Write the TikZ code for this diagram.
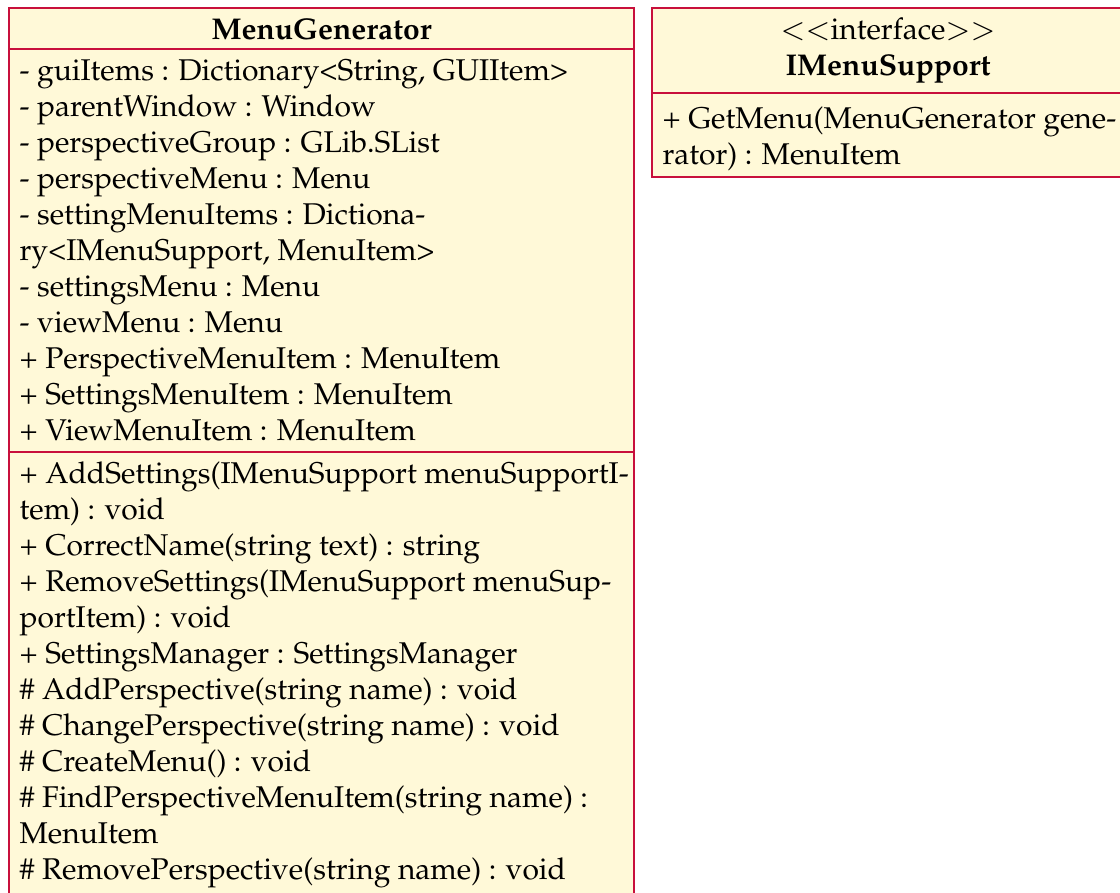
\documentclass[tikz,border=0pt]{standalone}
\usepackage[T1]{fontenc}
\usepackage{mathpazo}
\definecolor{umlfill}{RGB}{255,249,216}
\definecolor{umlline}{RGB}{200,16,60}
\begin{document}
\begin{tikzpicture}[x=0.33333pt,y=-0.33333pt,
  classbox/.style={draw=umlline,fill=umlfill,line width=0.6pt},
  sepline/.style={draw=umlline,line width=0.6pt},
  member/.style={anchor=base west,inner sep=0pt,font=\fontsize{10}{12}\selectfont},
  title/.style={anchor=base,inner sep=0pt,font=\fontsize{10}{12}\selectfont}]
\useasboundingbox (0,0) rectangle (1120,892);
\clip (0,0) rectangle (1120,892);
% MenuGenerator class
\path[classbox] (9,8) rectangle (634,960);
\draw[sepline] (9,49) -- (634,49);
\draw[sepline] (9,452) -- (634,452);
\node[title] (mgtitle) at (321.5,39) {\textbf{MenuGenerator}};
\foreach \t [count=\i] in {
  {- guiItems : Dictionary<String, GUIItem>},
  {- parentWindow : Window},
  {- perspectiveGroup : GLib.SList},
  {- perspectiveMenu : Menu},
  {- settingMenuItems : Dictiona-},
  {ry<IMenuSupport, MenuItem>},
  {- settingsMenu : Menu},
  {- viewMenu : Menu},
  {+ PerspectiveMenuItem : MenuItem},
  {+ SettingsMenuItem : MenuItem},
  {+ ViewMenuItem : MenuItem}}
  \node[member] (attr\i) at (19,{80+36*(\i-1)}) {\t};
\foreach \t [count=\i] in {
  {+ AddSettings(IMenuSupport menuSupportI-},
  {tem) : void},
  {+ CorrectName(string text) : string},
  {+ RemoveSettings(IMenuSupport menuSup-},
  {portItem) : void},
  {+ SettingsManager : SettingsManager},
  {\# AddPerspective(string name) : void},
  {\# ChangePerspective(string name) : void},
  {\# CreateMenu() : void},
  {\# FindPerspectiveMenuItem(string name) :},
  {MenuItem},
  {\# RemovePerspective(string name) : void}}
  \node[member] (op\i) at (19,{483+36*(\i-1)}) {\t};
% IMenuSupport interface
\path[classbox] (652,8) rectangle (1124,177);
\draw[sepline] (652,93) -- (1124,93);
\node[title] (stereo) at (888,39) {$<<$interface$>>$};
\node[title] (ifname) at (888,75) {\textbf{IMenuSupport}};
\node[member] (ifop1) at (662,128) {+ GetMenu(MenuGenerator gene-};
\node[member] (ifop2) at (662,164) {rator) : MenuItem};
\end{tikzpicture}
\end{document}
